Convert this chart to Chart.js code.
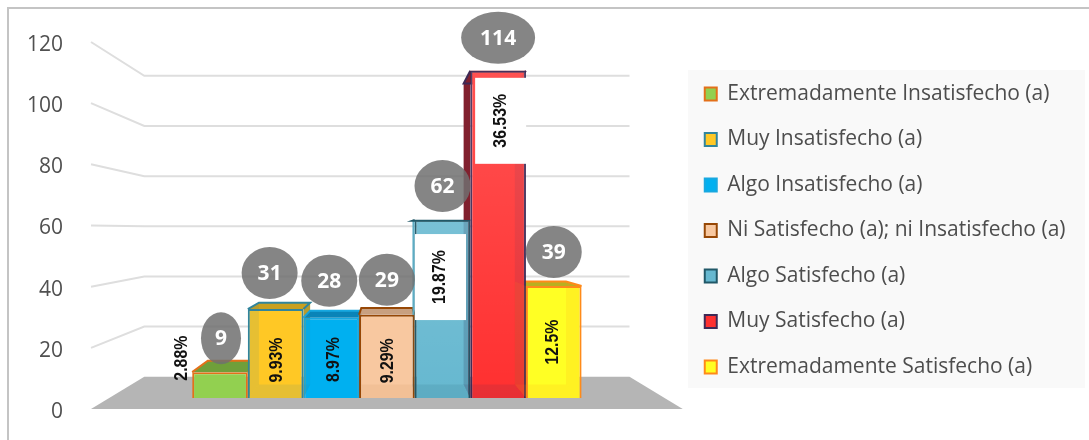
<!DOCTYPE html>
<html>
<head>
<meta charset="utf-8">
<title>Satisfaccion</title>
<script src="https://cdn.jsdelivr.net/npm/chart.js@4"></script>
<style>
  html, body { margin: 0; padding: 0; background: #fff; }
  canvas { display: block; }
</style>
</head>
<body>
<canvas id="chart" width="1089" height="440"></canvas>
<script>
// Data
const categories = [
	'Extremadamente Insatisfecho (a)',
	'Muy Insatisfecho (a)',
	'Algo Insatisfecho (a)',
	'Ni Satisfecho (a); ni Insatisfecho (a)',
	'Algo Satisfecho (a)',
	'Muy Satisfecho (a)',
	'Extremadamente Satisfecho (a)',
];
const counts = [9, 31, 28, 29, 62, 114, 39];
const percentLabels = ['2.88%', '9.93%', '8.97%', '9.29%', '19.87%', '36.53%', '12.5%'];
const yTicks = [0, 20, 40, 60, 80, 100, 120];

// Colours
const fillColors = ['#92d050', '#ffc825', '#00b0f0', '#f8c8a0', '#66b8d0', '#ff3030', '#ffff24'];
const edgeColors = ['#e3701a', '#31859c', '#18a8e0', '#974806', '#215868', '#3f2a56', '#ff8a1a'];
const topColors = ['#6f9f3a', '#c9a020', '#0a84b8', '#c8a080', '#66b8d0', '#8a1f2a', '#b8b020'];

// Where the bubbles and the rotated percentages sit, relative to each bar
const bubbleDx = [1, -6, -2, 0, 0, 0, 0];
const bubbleDy = [-34, -36, -37, -35, -34, -33, -34];
const bubbleRx = [20, 28, 28, 28, 28, 37, 28];
const percentDx = [-39, 0, 2, 0, -3, 1.5, -2];
const percentDy = [-14, 51, 42, 46, 57, 50, 56];
const whiteBox = [false, false, false, false, true, true, false];
const innerAlpha = [0, 0.12, 0, 0.06, 0.12, 0.12, 0.12];
const glossAlpha = [0, 0, 0, 0, 0.12, 0.16, 0];

// Perspective of the 3D look: everything shrinks towards one point
const VANISH_X = 387;
const VANISH_Y = 230;
const BAR_DEPTH = 0.08;
const WALL_DEPTH = 0.18;

function back(x, y, k) {
	return [x + (VANISH_X - x) * k, y + (VANISH_Y - y) * k];
}

function poly(ctx, pts, fill) {
	ctx.beginPath();
	pts.forEach((p, i) => (i ? ctx.lineTo(p[0], p[1]) : ctx.moveTo(p[0], p[1])));
	ctx.closePath();
	ctx.fillStyle = fill;
	ctx.fill();
}

const wallPlugin = {
	id: 'wall',
	beforeDraw(chart) {
		const { ctx, chartArea: a, scales } = chart;
		ctx.save();
		// frame
		ctx.strokeStyle = '#c4c4c4';
		ctx.lineWidth = 2;
		ctx.strokeRect(8, 8, 1200, 600);
		// legend background
		ctx.fillStyle = '#f9f9f9';
		ctx.fillRect(688, 70, 397, 318);
		// floor
		poly(ctx, [
			[a.left, a.bottom],
			back(a.left, a.bottom, WALL_DEPTH),
			back(a.right, a.bottom, WALL_DEPTH),
			[a.right, a.bottom],
		], '#b5b5b5');
		// grid lines bend at the back corner
		ctx.strokeStyle = '#dedede';
		ctx.lineWidth = 2;
		yTicks.slice(1).forEach((v) => {
			const py = scales.y.getPixelForValue(v);
			const corner = back(a.left, py, WALL_DEPTH);
			const end = back(a.right, py, WALL_DEPTH);
			ctx.beginPath();
			ctx.moveTo(a.left, py);
			ctx.lineTo(corner[0], corner[1]);
			ctx.lineTo(end[0], end[1]);
			ctx.stroke();
		});
		ctx.restore();
	},
};

function barBox(chart, i) {
	const el = chart.getDatasetMeta(i).data[0];
	return { l: el.x - el.width / 2, r: el.x + el.width / 2, t: el.y, b: el.base, cx: el.x };
}

const facesPlugin = {
	id: 'faces',
	beforeDatasetsDraw(chart) {
		const ctx = chart.ctx;
		ctx.save();
		counts.forEach((_, i) => {
			const { l, r, t, b } = barBox(chart, i);
			const tl = back(l, t, BAR_DEPTH), tr = back(r, t, BAR_DEPTH);
			const bl = back(l, b, BAR_DEPTH), br = back(r, b, BAR_DEPTH);
			// top face when seen from above
			poly(ctx, [[l, t], tl, tr, [r, t]], topColors[i]);
			// the outer side face
			if (l > VANISH_X) poly(ctx, [[l, t], tl, bl, [l, b]], topColors[i]);
			if (r < VANISH_X) poly(ctx, [[r, t], tr, br, [r, b]], topColors[i]);
			ctx.strokeStyle = edgeColors[i];
			ctx.lineWidth = 2;
			ctx.beginPath();
			ctx.moveTo(l, t);
			ctx.lineTo(tl[0], tl[1]);
			ctx.lineTo(tr[0], tr[1]);
			ctx.lineTo(r, t);
			ctx.stroke();
		});
		ctx.restore();
	},
	afterDatasetsDraw(chart) {
		const ctx = chart.ctx;
		ctx.save();
		counts.forEach((_, i) => {
			const { l, r, t, b } = barBox(chart, i);
			const tl = back(l, t, BAR_DEPTH), tr = back(r, t, BAR_DEPTH);
			const bl = back(l, b, BAR_DEPTH), br = back(r, b, BAR_DEPTH);
			// inner faces seen through the glassy bar
			ctx.globalAlpha = innerAlpha[i];
			poly(ctx, [[l, t], tl, bl, [l, b]], edgeColors[i]);
			poly(ctx, [[r, t], tr, br, [r, b]], edgeColors[i]);
			poly(ctx, [[l, b], bl, br, [r, b]], edgeColors[i]);
			ctx.globalAlpha = 1;
			// lighter towards the top on the glossy ones
			if (glossAlpha[i]) {
				const g = ctx.createLinearGradient(0, t, 0, b);
				g.addColorStop(0, 'rgba(255,255,255,' + glossAlpha[i] + ')');
				g.addColorStop(1, 'rgba(255,255,255,0)');
				ctx.fillStyle = g;
				ctx.fillRect(l + 1, t + 1, r - l - 2, b - t - 2);
			}
		});
		ctx.restore();
	},
};

const labelsPlugin = {
	id: 'barLabels',
	afterDraw(chart) {
		const ctx = chart.ctx;
		ctx.save();
		ctx.textAlign = 'center';
		ctx.textBaseline = 'middle';
		counts.forEach((count, i) => {
			const { t, cx } = barBox(chart, i);
			// rotated percentage
			const px = cx + percentDx[i];
			const py = t + percentDy[i];
			if (whiteBox[i]) {
				ctx.fillStyle = '#fff';
				ctx.fillRect(px - 24.5, py - 43, 51, 86);
			}
			ctx.save();
			ctx.translate(px, py);
			ctx.rotate(-Math.PI / 2);
			ctx.scale(0.88, 1);
			ctx.fillStyle = '#111';
			ctx.font = 'bold 18px "Liberation Sans"';
			ctx.fillText(percentLabels[i], 0, 1);
			ctx.restore();
			// grey bubble with the count
			const bx = cx + bubbleDx[i];
			const by = t + bubbleDy[i];
			ctx.beginPath();
			ctx.ellipse(bx, by, bubbleRx[i], 26, 0, 0, Math.PI * 2);
			ctx.fillStyle = 'rgba(112,112,112,0.85)';
			ctx.fill();
			ctx.fillStyle = '#fff';
			ctx.font = 'bold 21px "Open Sans"';
			ctx.fillText(String(count), bx, by + 1);
		});
		ctx.restore();
	},
};

const legendNudge = {
	id: 'legendNudge',
	afterLayout(chart) {
		chart.legend.left -= 2.5;
		chart.legend.top += 17;
	},
};

new Chart(document.getElementById('chart'), {
	type: 'bar',
	data: {
		labels: [''],
		datasets: categories.map((name, i) => ({
			label: name,
			data: [counts[i]],
			yAxisID: 'yBars',
			backgroundColor: fillColors[i],
			borderColor: edgeColors[i],
			borderWidth: 2,
		})),
	},
	options: {
		responsive: false,
		animation: false,
		layout: { padding: { top: 42, bottom: 31, left: 0, right: 11 } },
		scales: {
			x: { display: false },
			y: {
				position: 'left',
				min: 0,
				max: 120,
				afterFit: (s) => { s.width = 91; s.paddingTop = 0; s.paddingBottom = 0; },
				afterBuildTicks: (s) => { s.ticks = yTicks.map((v) => ({ value: v })); },
				grid: { display: false },
				border: { display: false },
				ticks: { color: '#505050', padding: 20, labelOffset: 3, font: { family: 'Open Sans', size: 21 } },
			},
			// bars stand further forward on the floor than the axis plane
			yBars: { display: false, min: -3.83, max: 124.04 },
		},
		plugins: {
			legend: {
				position: 'right',
				align: 'start',
				maxWidth: 500,
				labels: {
					color: '#4d4d4d',
					boxWidth: 12,
					boxHeight: 13,
					padding: 24.5,
					font: { family: 'Open Sans', size: 21 },
				},
			},
			tooltip: { enabled: false },
		},
		datasets: { bar: { categoryPercentage: 0.658, barPercentage: 1 } },
	},
	plugins: [wallPlugin, facesPlugin, labelsPlugin, legendNudge],
});
</script>
</body>
</html>
